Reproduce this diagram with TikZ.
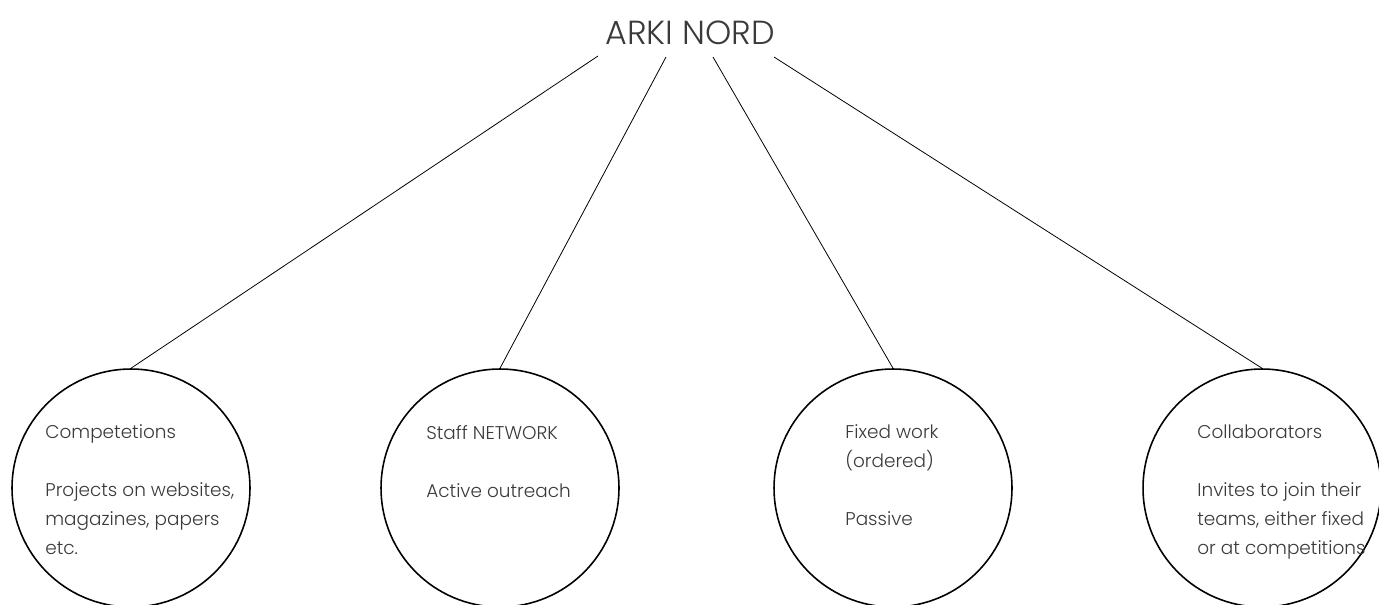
\documentclass[tikz,border=0pt]{standalone}
\usepackage{fontspec}
\setmainfont{Poppins}[UprightFont=* Light]
\usepackage{xcolor}
\definecolor{InkGray}{RGB}{58, 58, 58}

\begin{document}
\begin{tikzpicture}[x=0.02cm, y=-0.02cm,
    bubble/.style={draw=black, line width=0.9pt, circle, minimum size=4.76cm, inner sep=0pt},
    note/.style={anchor=base west, align=left, inner sep=0pt, text=InkGray, font=\fontsize{10.5}{16.4}\selectfont},
    link/.style={draw=black, line width=0.45pt}]
    \useasboundingbox (0,0) rectangle (1379,605);
    \clip (0,0) rectangle (1379,605);

    % Title
    \node[anchor=base, inner sep=0pt, text=InkGray, font=\fontsize{19}{22}\selectfont] (title) at (690,44) {ARKI NORD};
    \coordinate (out1) at (598,56);
    \coordinate (out2) at (666,57);
    \coordinate (out3) at (713,57);
    \coordinate (out4) at (774,57);

    % Circles
    \node[bubble] (comp) at (131,488) {};
    \node[bubble] (staff) at (500,488) {};
    \node[bubble] (fixed) at (893,488) {};
    \node[bubble] (collab) at (1262,488) {};

    % Texts (placed by the baseline of their last line)
    \node[note] (compText) at (45,554) {Competetions\\[16.4pt]Projects on websites,\\magazines, papers\\etc.};
    \node[note] (staffText) at (426,497) {Staff NETWORK\\[16.4pt]Active outreach};
    \node[note] (fixedText) at (845,525) {Fixed work\\(ordered)\\[16.4pt]Passive};
    \node[note] (collabText) at (1197,554) {Collaborators\\[16.4pt]Invites to join their\\teams, either fixed\\or at competitions};

    % Lines
    \draw[link] (out1) -- (comp.north);
    \draw[link] (out2) -- (staff.north);
    \draw[link] (out3) -- (fixed.north);
    \draw[link] (out4) -- (collab.north);
\end{tikzpicture}
\end{document}
